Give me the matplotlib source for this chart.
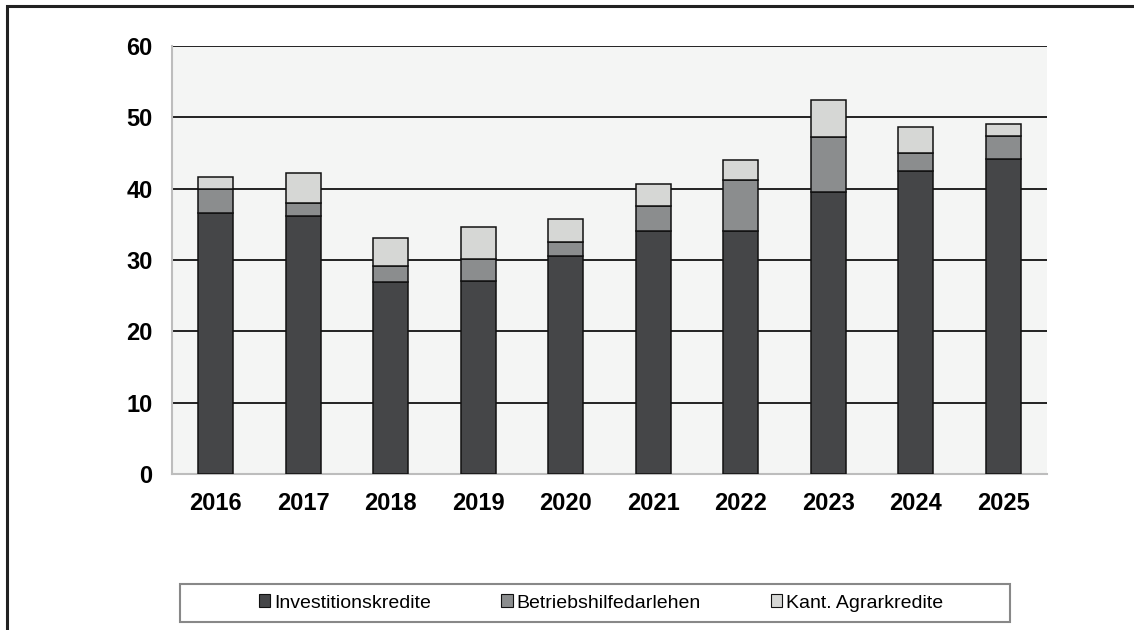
import numpy as np
import matplotlib.pyplot as plt
from matplotlib.patches import Rectangle

# Daten (Mio. Fr.)
jahre = ['2016', '2017', '2018', '2019', '2020', '2021', '2022', '2023', '2024', '2025']
investitionskredite = [36.6, 36.1, 26.9, 27.1, 30.6, 34.0, 34.1, 39.5, 42.5, 44.2]
betriebshilfe = [3.3, 1.9, 2.3, 3.0, 1.9, 3.6, 7.1, 7.8, 2.5, 3.2]
agrarkredite = [1.8, 4.2, 3.9, 4.5, 3.3, 3.0, 2.8, 5.2, 3.6, 1.7]
serien = ['Investitionskredite', 'Betriebshilfedarlehen', 'Kant. Agrarkredite']
farben = ['#454648', '#8b8d8e', '#d6d7d5']

fig = plt.figure(figsize=(11.34, 6.3), dpi=100)
W, H = 1134, 630
ax = fig.add_axes([172 / W, 1 - 474 / H, (1047 - 172) / W, (474 - 46) / H])
ax.set_facecolor('#f4f5f4')

# äusserer Rahmen (nur links/oben sichtbar)
fig.patches.append(Rectangle((7 / W, -0.1), 1.2, 1 - 6 / H + 0.1, transform=fig.transFigure,
                             fill=False, ec='#222222', lw=2.2, zorder=0))
# Legendenrahmen
fig.patches.append(Rectangle((180 / W, 1 - 622 / H), (1010 - 180) / W, 38 / H, transform=fig.transFigure,
                             fill=False, ec='#888888', lw=1.5, zorder=1))

x = np.arange(len(jahre))
b = 0.4
unten = np.zeros(len(jahre))
for werte, farbe, name in zip([investitionskredite, betriebshilfe, agrarkredite], farben, serien):
    ax.bar(x, werte, b, bottom=unten, color=farbe, edgecolor='#111111', lw=1.1, label=name, zorder=3)
    unten += np.array(werte)

ax.set_xlim(-0.5, len(jahre) - 0.5)
ax.set_ylim(0, 60)
ax.set_yticks(range(0, 61, 10))
ax.set_xticks(x)
ax.set_xticklabels(jahre)
ax.yaxis.grid(True, color='#111111', lw=1.3, zorder=1)
ax.tick_params(length=0, labelsize=17, pad=13)
ax.tick_params(axis='y', pad=14)
for lab in ax.get_xticklabels() + ax.get_yticklabels():
    lab.set_fontweight('bold')
    lab.set_fontfamily('Liberation Sans')
ax.spines['right'].set_visible(False)
ax.spines['top'].set_visible(False)
for s in ['left', 'bottom']:
    ax.spines[s].set_color('#bdbdbd')
    ax.spines[s].set_linewidth(1.5)

leg = fig.legend(loc='center', bbox_to_anchor=(601 / W, 1 - 603 / H), ncol=3,
                 frameon=False, prop={'family': 'Liberation Sans', 'size': 14},
                 handlelength=0.6, handleheight=0.6, handletextpad=0.2,
                 columnspacing=3.6, borderpad=0, borderaxespad=0)
for h in leg.legend_handles:
    h.set_linewidth(0.8)

fig.savefig('out.png', dpi=100, facecolor='white')
